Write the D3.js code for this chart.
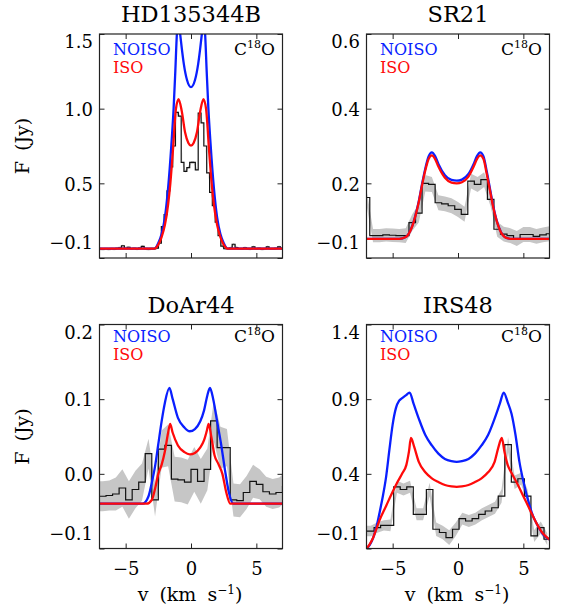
<!DOCTYPE html>
<html><head><meta charset="utf-8">
<script src="https://cdn.jsdelivr.net/npm/d3@7/dist/d3.min.js"></script>
<style>
body{margin:0;background:#fff}
svg{display:block}
text{font-family:"DejaVu Serif",serif;fill:#000}
</style>
</head><body>
<svg id="chart" width="563" height="610"></svg>
<script>
// ---------------- DATA ----------------
const titles = ["HD135344B", "SR21", "DoAr44", "IRS48"];
const xTicks = [-5, 0, 5];
const xTickLabels = ["−5", "0", "5"];

// HD135344B
const hdYTicks = [0, 0.5, 1.0, 1.5];
const hdYLabels = ["−0.1", "0.5", "1.0", "1.5"];
const hdBlueV = [-7.0,-2.8,-2.5,-2.25,-2.0,-1.75,-1.5,-1.33,-1.2,-1.08,-0.95,-0.83,-0.7,-0.55,-0.3,0.0,0.3,0.55,0.7,0.83,0.95,1.08,1.2,1.33,1.5,1.75,2.0,2.25,2.5,2.8,7.0];
const hdNoiso = [0.063,0.063,0.10,0.16,0.27,0.47,0.76,1.0,1.25,1.5,1.6,1.5,1.4,1.3,1.19,1.144,1.19,1.3,1.4,1.5,1.6,1.5,1.25,1.0,0.76,0.47,0.27,0.16,0.10,0.063,0.063];
const hdRedV = [-7.0,-2.8,-2.5,-2.25,-2.0,-1.75,-1.58,-1.4,-1.15,-0.95,-0.7,-0.45,-0.2,0.0,0.2,0.45,0.7,0.95,1.15,1.4,1.58,1.75,2.0,2.25,2.5,2.8,7.0];
const hdIso = [0.063,0.063,0.09,0.14,0.22,0.36,0.5,0.7,1.0,1.064,0.98,0.84,0.77,0.752,0.77,0.84,0.98,1.064,1.0,0.7,0.5,0.36,0.22,0.14,0.09,0.063,0.063];
const hdBinW = 0.217;
const hdDataV = [-7.16,-6.94,-6.73,-6.51,-6.29,-6.07,-5.86,-5.64,-5.42,-5.21,-4.99,-4.77,-4.55,-4.34,-4.12,-3.90,-3.69,-3.47,-3.25,-3.03,-2.82,-2.60,
  -2.38,-2.16,-1.95,-1.73,-1.51,-1.29,-1.08,-0.86,-0.64,-0.43,-0.21,0.01,0.23,0.44,0.66,0.88,1.09,1.31,1.53,1.74,1.96,2.18,2.39,
  2.61,2.83,3.04,3.26,3.48,3.70,3.91,4.13,4.35,4.56,4.78,5.00,5.22,5.43,5.65,5.87,6.08,6.30,6.52,6.74,6.95,7.17];
const hdDataF = [0.062,0.061,0.060,0.062,0.060,0.063,0.061,0.064,0.068,0.082,0.064,0.072,0.062,0.064,0.061,0.066,0.078,0.063,0.060,0.063,0.062,0.066,
  0.10,0.21,0.29,0.45,0.61,0.75,0.975,0.95,0.64,0.58,0.605,0.64,0.64,0.59,0.97,0.905,0.75,0.57,0.44,0.35,0.24,0.15,0.08,
  0.062,0.063,0.066,0.092,0.070,0.062,0.063,0.068,0.063,0.061,0.075,0.062,0.064,0.060,0.063,0.074,0.062,0.063,0.065,0.075,0.064,0.065];
const hdDataErr = 0.009;

// SR21
const srYTicks = [0, 0.2, 0.4, 0.6];
const srYLabels = ["−0.1", "0.2", "0.4", "0.6"];
const srModelV = [-7.0,-4.5,-4.0,-3.5,-3.0,-2.75,-2.5,-2.25,-2.0,-1.75,-1.5,-1.0,-0.5,-0.1,0.3,0.8,1.2,1.45,1.7,1.95,2.2,2.45,2.7,3.2,3.7,4.2,7.0];
const srNoiso = [0.051,0.051,0.056,0.086,0.152,0.198,0.240,0.272,0.283,0.273,0.252,0.222,0.209,0.207,0.210,0.225,0.252,0.273,0.283,0.272,0.232,0.185,0.138,0.076,0.054,0.051,0.051];
const srIso = [0.051,0.051,0.056,0.085,0.150,0.195,0.235,0.265,0.275,0.265,0.245,0.215,0.202,0.200,0.203,0.218,0.245,0.265,0.275,0.265,0.225,0.180,0.135,0.075,0.054,0.051,0.051];
const srBinW = 0.5;
const srDataV = [-7.0,-6.5,-6.0,-5.5,-5.0,-4.5,-4.0,-3.5,-3.0,-2.5,-2.0,-1.5,-1.0,-0.5,0.0,0.5,1.0,1.5,2.0,2.5,3.0,3.5,4.0,4.5,5.0,5.5,6.0,6.5,7.0];
const srDataF = [0.162,0.060,0.060,0.062,0.061,0.060,0.060,0.095,0.120,0.200,0.197,0.148,0.145,0.140,0.130,0.117,0.206,0.197,0.210,0.157,0.077,0.064,0.060,0.052,0.063,0.063,0.058,0.062,0.065];
const srDataErr = [0.02,0.018,0.018,0.018,0.018,0.018,0.02,0.022,0.025,0.022,0.02,0.02,0.02,0.02,0.02,0.02,0.02,0.02,0.02,0.02,0.02,0.02,0.02,0.02,0.02,0.02,0.02,0.02,0.02];

// DoAr44
const doYTicks = [-0.1, 0.0, 0.1, 0.2];
const doYLabels = ["−0.1", "0.0", "0.1", "0.2"];
const doBlueV = [-7.0,-3.7,-3.25,-3.0,-2.75,-2.5,-2.25,-2.0,-1.65,-1.4,-1.0,-0.5,-0.1,0.3,0.7,1.0,1.25,1.45,1.7,2.0,2.3,2.6,2.9,3.25,7.0];
const doNoiso = [-0.04,-0.04,-0.03,-0.012,0.01,0.04,0.07,0.095,0.115,0.10,0.075,0.062,0.057,0.06,0.07,0.085,0.105,0.115,0.10,0.07,0.04,0.005,-0.025,-0.04,-0.04];
const doRedV = [-7.0,-3.4,-3.0,-2.75,-2.5,-2.25,-2.0,-1.75,-1.6,-1.4,-1.0,-0.5,-0.1,0.3,0.7,1.0,1.2,1.35,1.55,1.8,2.1,2.4,2.7,3.0,7.0];
const doIso = [-0.04,-0.04,-0.035,-0.02,0.0,0.012,0.03,0.055,0.067,0.055,0.038,0.029,0.026,0.028,0.035,0.045,0.057,0.067,0.05,0.025,0.013,0.0,-0.025,-0.04,-0.04];
const doBinW = 0.5;
const doDataV = [-7.25,-6.75,-6.25,-5.75,-5.25,-4.75,-4.25,-3.75,-3.25,-2.75,-2.25,-1.75,-1.25,-0.75,-0.25,0.25,0.75,1.25,1.75,2.25,2.75,3.25,3.75,4.25,4.75,5.25,5.75,6.25,6.75,7.25];
const doDataF = [-0.030,-0.030,-0.029,-0.027,-0.019,-0.035,-0.021,-0.011,0.027,-0.035,0.033,0.038,-0.007,-0.008,-0.011,0.006,-0.010,0.006,0.071,0.035,0.035,-0.035,-0.036,-0.025,-0.010,-0.014,-0.024,-0.027,-0.025,-0.017];
const doDataErr = [0.02,0.02,0.02,0.022,0.025,0.025,0.025,0.025,0.02,0.022,0.025,0.028,0.03,0.03,0.03,0.03,0.03,0.028,0.028,0.028,0.025,0.022,0.022,0.022,0.022,0.02,0.02,0.02,0.02,0.02];

// IRS48
const irYTicks = [-0.1, 0.4, 0.9, 1.4];
const irYLabels = ["−0.1", "0.4", "0.9", "1.4"];
const irBlueV = [-7.0,-6.75,-6.5,-6.25,-6.0,-5.75,-5.5,-5.25,-5.0,-4.75,-4.5,-4.3,-4.0,-3.7,-3.4,-3.0,-2.5,-2.0,-1.5,-1.0,-0.5,-0.1,0.3,0.8,1.3,1.8,2.3,2.8,3.2,3.5,3.8,4.1,4.4,4.7,5.0,5.25,5.5,5.75,6.0,6.25,6.5,6.75,7.0];
const irNoiso = [-0.1,-0.075,-0.03,0.04,0.14,0.25,0.38,0.56,0.73,0.84,0.89,0.905,0.925,0.944,0.87,0.77,0.66,0.59,0.535,0.5,0.485,0.48,0.485,0.5,0.535,0.59,0.66,0.77,0.87,0.944,0.88,0.80,0.66,0.48,0.35,0.26,0.18,0.115,0.07,0.03,-0.005,-0.025,-0.04];
const irRedV = [-7.0,-6.75,-6.5,-6.25,-6.0,-5.5,-5.0,-4.6,-4.25,-3.95,-3.75,-3.6,-3.35,-3.0,-2.5,-2.0,-1.5,-1.0,-0.5,-0.1,0.3,0.8,1.3,1.8,2.3,2.8,3.1,3.35,3.55,3.8,4.1,4.5,5.0,5.5,6.0,6.5,7.0];
const irIso = [-0.1,-0.07,-0.03,0.03,0.09,0.185,0.28,0.35,0.405,0.46,0.55,0.64,0.58,0.48,0.41,0.37,0.345,0.325,0.316,0.313,0.316,0.325,0.345,0.37,0.41,0.48,0.58,0.64,0.55,0.46,0.405,0.34,0.25,0.16,0.07,0.0,-0.04];
const irBinW = 0.5;
const irDataV = [-7.17,-6.67,-6.17,-5.67,-5.17,-4.67,-4.17,-3.67,-3.17,-2.67,-2.17,-1.67,-1.17,-0.67,-0.17,0.33,0.83,1.33,1.83,2.33,2.83,3.33,3.83,4.33,4.83,5.33,5.83,6.33,6.83];
const irDataF = [0.017,0.017,0.04,0.055,0.055,0.313,0.295,0.313,0.129,0.129,0.295,0.029,0.007,-0.027,0.029,0.10,0.084,0.10,0.129,0.151,0.173,0.251,0.595,0.344,0.367,0.251,-0.016,0.04,-0.038];
const irDataErr = [0.035,0.035,0.035,0.035,0.04,0.04,0.04,0.04,0.04,0.04,0.045,0.045,0.045,0.05,0.045,0.04,0.04,0.04,0.04,0.04,0.04,0.045,0.05,0.045,0.04,0.04,0.04,0.04,0.04];

// ---------------- LAYOUT ----------------
const W = 183, H = 224;
const panels = [
  {title: titles[0], x0: 99.5, y0: 34, yDomain: [0, 1.5], yTicks: hdYTicks, yLabels: hdYLabels,
   blueV: hdBlueV, blue: hdNoiso, redV: hdRedV, red: hdIso, dV: hdDataV, dF: hdDataF, dE: hdDataErr, binW: hdBinW,
   leftCol: true, bottomRow: false, legY: 20.5},
  {title: titles[1], x0: 366.5, y0: 34, yDomain: [0, 0.6], yTicks: srYTicks, yLabels: srYLabels,
   blueV: srModelV, blue: srNoiso, redV: srModelV, red: srIso, dV: srDataV, dF: srDataF, dE: srDataErr, binW: srBinW,
   leftCol: false, bottomRow: false, legY: 20.5},
  {title: titles[2], x0: 99.5, y0: 324.5, yDomain: [-0.1, 0.2], yTicks: doYTicks, yLabels: doYLabels,
   blueV: doBlueV, blue: doNoiso, redV: doRedV, red: doIso, dV: doDataV, dF: doDataF, dE: doDataErr, binW: doBinW,
   leftCol: true, bottomRow: true, legY: 17.5},
  {title: titles[3], x0: 366.5, y0: 324.5, yDomain: [-0.1, 1.4], yTicks: irYTicks, yLabels: irYLabels,
   blueV: irBlueV, blue: irNoiso, redV: irRedV, red: irIso, dV: irDataV, dF: irDataF, dE: irDataErr, binW: irBinW,
   leftCol: false, bottomRow: true, legY: 17.5}
];

const svg = d3.select("#chart");

panels.forEach((p, pi) => {
  const x = d3.scaleLinear().domain([-7, 7]).range([0, W]);
  const y = d3.scaleLinear().domain(p.yDomain).range([H, 0]);
  const g = svg.append("g").attr("transform", `translate(${p.x0},${p.y0})`);

  const clipId = "clip" + pi;
  g.append("clipPath").attr("id", clipId).append("rect").attr("width", W).attr("height", H);
  const plot = g.append("g").attr("clip-path", `url(#${clipId})`);

  const err = i => (Array.isArray(p.dE) ? p.dE[i] : p.dE);
  const pts = p.dV.map((v, i) => ({v, f: p.dF[i], e: err(i)}));

  // uncertainty band
  plot.append("path").datum(pts)
    .attr("fill", "#c6c6c6").attr("stroke", "none")
    .attr("d", d3.area().x(d => x(d.v)).y0(d => y(d.f - d.e)).y1(d => y(d.f + d.e)));

  // histogram of data
  const stepPts = pts.map(d => [d.v - p.binW / 2, d.f]);
  stepPts.push([pts[pts.length - 1].v + p.binW / 2, pts[pts.length - 1].f]);
  plot.append("path").datum(stepPts)
    .attr("fill", "none").attr("stroke", "#111").attr("stroke-width", 1.2)
    .attr("d", d3.line().x(d => x(d[0])).y(d => y(d[1])).curve(d3.curveStepAfter));

  const lineGen = d3.line().x(d => x(d[0])).y(d => y(d[1])).curve(d3.curveMonotoneX);
  plot.append("path").datum(p.blueV.map((v, i) => [v, p.blue[i]]))
    .attr("fill", "none").attr("stroke", "#0a1fff").attr("stroke-width", 2.3)
    .attr("d", lineGen);
  plot.append("path").datum(p.redV.map((v, i) => [v, p.red[i]]))
    .attr("fill", "none").attr("stroke", "#ff0a0a").attr("stroke-width", 2.3)
    .attr("d", lineGen);

  // axes (inward ticks)
  const styleAxis = sel => {
    sel.select(".domain").remove();
    sel.selectAll(".tick line").attr("stroke", "#222").attr("stroke-width", 1);
    sel.selectAll("text").style("font-family", '"DejaVu Serif", serif').style("font-size", "18px").attr("fill", "#000");
  };
  const ax = g.append("g").attr("transform", `translate(0,${H})`)
    .call(d3.axisBottom(x).tickValues(xTicks).tickSize(-5).tickPadding(14)
      .tickFormat((d, i) => p.bottomRow ? xTickLabels[i] : ""));
  styleAxis(ax);
  g.append("g").call(d3.axisTop(x).tickValues(xTicks).tickSize(-5).tickFormat("")).call(styleAxis);
  g.append("g").attr("transform", `translate(${W},0)`)
    .call(d3.axisRight(y).tickValues(p.yTicks).tickSize(-5).tickFormat("")).call(styleAxis);
  const ay = g.append("g")
    .call(d3.axisLeft(y).tickValues(p.yTicks).tickSize(-5).tickPadding(6.5)
      .tickFormat((d, i) => p.yLabels[i]));
  styleAxis(ay);
  ay.selectAll("text").attr("dy", (d, i) => {
    if (i === 0) return "-9.5px";
    if (i === p.yTicks.length - 1) return "13.5px";
    return "6.8px";
  });

  // frame
  g.append("rect").attr("width", W).attr("height", H)
    .attr("fill", "none").attr("stroke", "#222").attr("stroke-width", 1.2);

  // title
  g.append("text").attr("x", W / 2).attr("y", p.bottomRow ? -11.5 : -12)
    .attr("text-anchor", "middle").style("font-size", "22.5px").text(p.title);

  // legend
  g.append("text").attr("x", 13.5).attr("y", p.legY).style("font-size", "16px")
    .style("fill", "#0a1fff").text("NOISO");
  g.append("text").attr("x", 13.5).attr("y", p.legY + 18).style("font-size", "16px")
    .style("fill", "#ff0a0a").text("ISO");
  const iso = g.append("text").attr("x", W - 7.5).attr("y", p.legY)
    .attr("text-anchor", "end").style("font-size", "17px");
  iso.append("tspan").text("C");
  iso.append("tspan").attr("dy", -7).style("font-size", "11px").text("18");
  iso.append("tspan").attr("dy", 7).text("O");

  if (p.leftCol) {
    svg.append("text")
      .attr("transform", `translate(29,${p.y0 + H / 2}) rotate(-90)`)
      .attr("text-anchor", "middle").style("font-size", "19px").style("word-spacing", "4px")
      .text("F (Jy)");
  }
  if (p.bottomRow) {
    const t = svg.append("text").attr("x", p.x0 + W / 2 - 1).attr("y", 601)
      .attr("text-anchor", "middle").style("font-size", "19px").style("word-spacing", "5px");
    t.append("tspan").text("v (km s");
    t.append("tspan").attr("dy", -7).style("font-size", "12px").text("−1");
    t.append("tspan").attr("dy", 7).text(")");
  }
});
</script>
</body></html>
